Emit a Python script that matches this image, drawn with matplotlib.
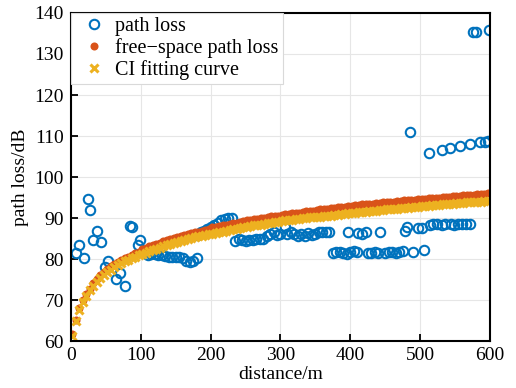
import numpy as np
import matplotlib
matplotlib.use("Agg")
import matplotlib.pyplot as plt

plt.rcParams['font.family'] = ['Liberation Serif', 'DejaVu Serif']

# measured path loss (scatter)
pl_d = [7, 12, 18, 24, 27, 32, 37, 43, 48, 53, 65, 70, 78, 85, 88, 96, 99, 110,
        115, 120, 125, 130, 135, 140, 145, 150, 155, 160, 165, 170, 175, 180,
        182, 186, 190, 195, 200, 205, 210, 215, 220, 225, 230,
        235, 240, 245, 250, 255, 260, 265, 270, 275, 280, 285, 290, 295, 300,
        306, 310, 315, 320, 325, 330, 335, 340, 345, 350, 355, 360, 365, 370,
        397, 411, 416, 423, 442, 478,
        375, 380, 385, 390, 395, 400, 405, 410, 425, 430, 435, 440,
        450, 455, 460, 465, 470, 475, 490, 505,
        481, 497, 502, 514, 519, 524, 531, 536, 544, 549, 554, 560, 565, 571,
        486, 512, 531, 543, 557, 571, 586, 593, 597,
        575, 580, 599]
pl_v = [81.5, 83.3, 80.3, 94.6, 92.0, 84.6, 86.8, 84.1, 78.0, 79.5, 75.2, 76.5, 73.4, 88.0, 87.9, 83.4, 84.6, 81.0,
        81.2, 81.2, 81.0, 80.9, 80.7, 80.6, 80.6, 80.5, 80.5, 80.3, 79.6, 79.3, 79.4, 80.2,
        85.8, 86.5, 86.8, 87.2, 87.8, 88.3, 88.9, 89.5, 89.7, 90.0, 90.0,
        84.5, 84.8, 84.6, 84.5, 84.6, 84.6, 84.8, 84.9, 85.0, 85.6, 86.0, 86.5, 85.8, 86.0,
        87.8, 86.2, 86.6, 86.0, 85.5, 86.0, 85.7, 86.3, 85.9, 86.2, 86.6, 86.5, 86.5, 86.7,
        86.7, 86.4, 86.2, 86.6, 86.7, 86.8,
        81.4, 81.8, 81.7, 81.4, 81.3, 81.6, 82.0, 81.6, 81.4, 81.5, 81.6, 81.4,
        81.5, 81.6, 81.7, 81.5, 81.8, 81.9, 81.6, 82.2,
        87.7, 87.5, 87.5, 88.4, 88.5, 88.5, 88.4, 88.5, 88.5, 88.4, 88.5, 88.5, 88.6, 88.5,
        110.9, 105.9, 106.6, 107.0, 107.6, 108.0, 108.5, 108.6, 108.8,
        135.3, 135.3, 135.9]

# curve sample distances (5 m grid)
curve_d = np.arange(2, 600, 5)

fspl = [61.7, 65.2, 68.0, 70.0, 71.4, 72.8,
        74.1, 75.2, 76.1, 76.9, 77.6, 78.2, 78.8, 79.3, 79.8, 80.2, 80.6, 81.0, 81.4, 81.8,
        82.4, 82.7, 83.1, 83.4, 83.7, 84.0, 84.3, 84.6, 84.9, 85.1,
        85.4, 85.6, 85.9, 86.1, 86.3, 86.5, 86.7, 86.9, 87.1, 87.3,
        87.7, 87.9, 88.1, 88.2, 88.4, 88.6, 88.7, 88.9, 89.1, 89.2,
        89.4, 89.5, 89.7, 89.8, 89.9, 90.1, 90.2, 90.4, 90.5, 90.6,
        90.7, 90.9, 91.0, 91.1, 91.2, 91.3, 91.4, 91.6, 91.7, 91.8,
        92.0, 92.1, 92.2, 92.3, 92.4, 92.5, 92.6, 92.7, 92.8, 92.9,
        93.0, 93.1, 93.2, 93.3, 93.3, 93.4, 93.5, 93.6, 93.7, 93.8,
        93.9, 93.9, 94.0, 94.1, 94.2, 94.3, 94.3, 94.4, 94.5, 94.6,
        94.7, 94.7, 94.8, 94.9, 94.9, 95.0, 95.1, 95.2, 95.2, 95.3,
        95.4, 95.4, 95.5, 95.6, 95.6, 95.7, 95.8, 95.8, 95.9, 96.0]

ci_fit = [61.3, 64.8, 67.6, 69.6, 71.0, 72.4,
          73.3, 74.4, 75.3, 76.1, 76.8, 77.4, 78.0, 78.5, 79.0, 79.4, 79.8, 80.2, 80.6, 81.0,
          81.2, 81.5, 81.9, 82.2, 82.5, 82.8, 83.1, 83.4, 83.7, 83.9,
          84.2, 84.4, 84.7, 84.9, 85.1, 85.3, 85.5, 85.7, 85.9, 86.1,
          86.2, 86.4, 86.6, 86.7, 86.9, 87.1, 87.2, 87.4, 87.6, 87.7,
          87.9, 88.0, 88.2, 88.3, 88.4, 88.6, 88.7, 88.9, 89.0, 89.1,
          89.2, 89.4, 89.5, 89.6, 89.7, 89.8, 89.9, 90.1, 90.2, 90.3,
          90.2, 90.3, 90.4, 90.5, 90.6, 90.7, 90.8, 90.9, 91.0, 91.1,
          91.2, 91.3, 91.4, 91.5, 91.5, 91.6, 91.7, 91.8, 91.9, 92.0,
          92.1, 92.1, 92.2, 92.3, 92.4, 92.5, 92.5, 92.6, 92.7, 92.8,
          92.9, 92.9, 93.0, 93.1, 93.1, 93.2, 93.3, 93.4, 93.4, 93.5,
          93.6, 93.6, 93.7, 93.8, 93.8, 93.9, 94.0, 94.0, 94.1, 94.2]

blue = '#0072BD'
orange = '#D95319'
yellow = '#EDB120'

fig = plt.figure(figsize=(5.16, 3.88), dpi=100)
ax = fig.add_axes([0.1376, 0.1211, 0.812, 0.8454])

ax.plot(pl_d, pl_v, 'o', mfc='none', mec=blue, ms=6.8, mew=1.5, label='path loss')
ax.plot(curve_d, fspl, 'o', color=orange, ms=5.8, mew=0, label='free\u2212space path loss')
ax.plot(curve_d, ci_fit, 'x', color=yellow, ms=5.5, mew=2.2, label='CI fitting curve')

ax.set_xlim(0, 600)
ax.set_ylim(60, 140)
ax.set_xticks(range(0, 601, 100))
ax.set_yticks(range(60, 141, 10))
ax.grid(True, color='#e6e6e6', linewidth=0.8)
ax.set_axisbelow(True)
ax.tick_params(direction='in', length=5, width=1.3, labelsize=14, top=False, right=False)
ax.tick_params(axis='x', pad=4)
ax.tick_params(axis='y', pad=5)
for s in ax.spines.values():
    s.set_linewidth(1.5)
ax.set_xlabel('distance/m', fontsize=14, labelpad=2)
ax.set_ylabel('path loss/dB', fontsize=14, labelpad=4)

leg = ax.legend(loc='upper left', fontsize=14.5, frameon=True, fancybox=False,
                framealpha=1, edgecolor='#d9d9d9', borderaxespad=0,
                handletextpad=0.1, labelspacing=0.1, borderpad=0.2, handlelength=1.9)
leg.get_frame().set_linewidth(0.8)

fig.savefig('out.png', dpi=100)
